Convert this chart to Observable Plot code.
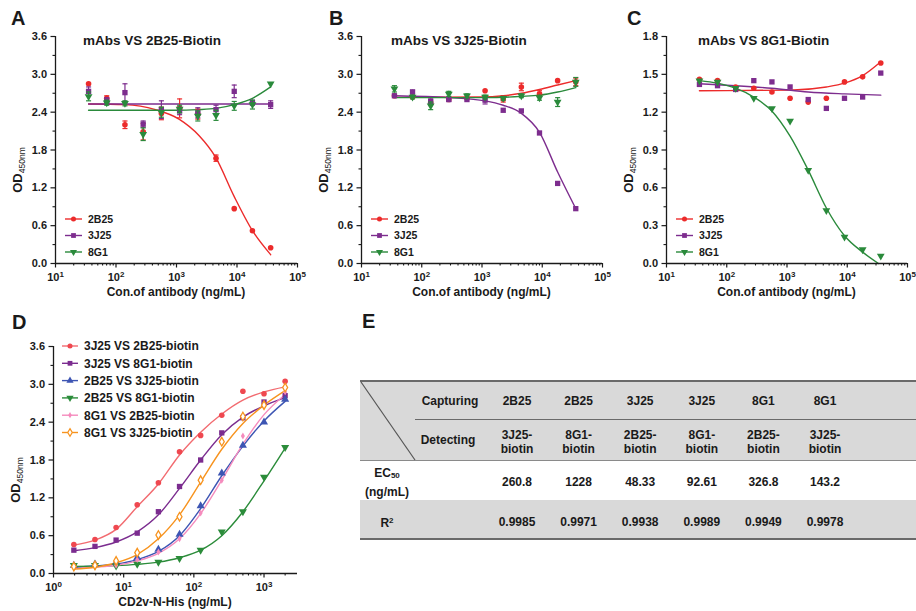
<!DOCTYPE html>
<html><head><meta charset="utf-8">
<script src="https://cdn.jsdelivr.net/npm/d3@7"></script>
<script src="https://cdn.jsdelivr.net/npm/@observablehq/plot@0.6"></script>
<style>
body{margin:0;background:#fff;}
#wrap{position:relative;width:916px;height:611px;overflow:hidden;font-family:Arial,"Liberation Sans",sans-serif;color:#1a1a1a;background:#fff;}
.panel{position:absolute;}
.cell{position:absolute;transform:translate(-50%,-50%);font-weight:bold;font-size:12px;text-align:center;line-height:14px;white-space:nowrap;color:#1a1a1a;}
.bar{position:absolute;}
</style></head><body><div id="wrap"></div>
<script>
// ---------------- DATA ----------------
const concABC = [35.2, 70.3, 140.6, 281.25, 562.5, 1125, 2250, 4500, 9000, 18000, 36000];
const concD = [1.95, 3.9, 7.8, 15.6, 31.25, 62.5, 125, 250, 500, 1000, 2000];

// Panel A: mAbs VS 2B25-Biotin
const A_2B25 = [2.85, 2.62, 2.20, 2.09, 2.38, 2.46, 2.37, 1.67, 0.87, 0.52, 0.25];
const A_2B25_sd = [0.02, 0.04, 0.06, 0.13, 0.10, 0.15, 0.08, 0.05, 0.02, 0.02, 0.02];
const A_3J25 = [2.73, 2.58, 2.71, 2.21, 2.44, 2.42, 2.39, 2.44, 2.73, 2.55, 2.52];
const A_3J25_sd = [0.07, 0.05, 0.14, 0.05, 0.14, 0.06, 0.08, 0.07, 0.10, 0.04, 0.06];
const A_8G1 = [2.65, 2.55, 2.54, 2.05, 2.40, 2.45, 2.34, 2.35, 2.50, 2.52, 2.85];
const A_8G1_sd = [0.07, 0.04, 0.04, 0.10, 0.08, 0.06, 0.08, 0.08, 0.07, 0.07, 0.02];
const A_fit_2B25 = [[35.2,2.53],[140,2.52],[450,2.44],[1100,2.29],[2350,2.03],[4400,1.69],[9000,1.06],[18000,0.52],[36000,0.14]];
const A_fit_3J25 = [[35.2,2.53],[36000,2.53]];
const A_fit_8G1 = [[35.2,2.43],[1000,2.43],[2250,2.44],[4500,2.46],[9000,2.52],[18000,2.62],[36000,2.80]];

// Panel B: mAbs VS 3J25-Biotin
const B_2B25 = [2.66, 2.64, 2.55, 2.60, 2.62, 2.74, 2.61, 2.80, 2.69, 2.90, 2.88];
const B_2B25_sd = [0.02, 0.02, 0.03, 0.02, 0.02, 0.02, 0.05, 0.06, 0.05, 0.02, 0.06];
const B_3J25 = [2.66, 2.72, 2.57, 2.60, 2.60, 2.59, 2.43, 2.42, 2.07, 1.27, 0.87];
const B_3J25_sd = [0.02, 0.03, 0.04, 0.03, 0.02, 0.06, 0.02, 0.02, 0.02, 0.02, 0.02];
const B_8G1 = [2.77, 2.64, 2.50, 2.69, 2.66, 2.64, 2.62, 2.66, 2.63, 2.56, 2.88];
const B_8G1_sd = [0.05, 0.03, 0.06, 0.04, 0.03, 0.03, 0.03, 0.03, 0.04, 0.07, 0.07];
const B_fit_2B25 = [[35.2,2.635],[1000,2.64],[2250,2.66],[4500,2.70],[9000,2.76],[18000,2.83],[36000,2.90]];
const B_fit_3J25 = [[35.2,2.66],[280,2.63],[1125,2.58],[2250,2.51],[4500,2.38],[9000,2.08],[18000,1.45],[36000,0.87]];
const B_fit_8G1 = [[35.2,2.63],[1125,2.63],[4500,2.65],[9000,2.67],[18000,2.72],[36000,2.79]];

// Panel C: mAbs VS 8G1-Biotin
const C_2B25 = [1.46, 1.45, 1.40, 1.39, 1.36, 1.31, 1.28, 1.31, 1.44, 1.48, 1.59];
const C_3J25 = [1.42, 1.41, 1.38, 1.45, 1.44, 1.40, 1.30, 1.23, 1.31, 1.32, 1.51];
const C_8G1 = [1.45, 1.44, 1.39, 1.31, 1.23, 1.13, 0.74, 0.42, 0.21, 0.11, 0.06];
const C_fit_2B25 = [[35.2,1.37],[1125,1.375],[4500,1.40],[9000,1.43],[18000,1.49],[36000,1.60]];
const C_fit_3J25 = [[35.2,1.425],[140,1.41],[560,1.39],[2250,1.36],[9000,1.345],[36000,1.335]];
const C_fit_8G1 = [[35.2,1.45],[70,1.43],[140,1.39],[280,1.32],[560,1.21],[1125,1.01],[2250,0.74],[4500,0.44],[9000,0.22],[18000,0.09],[33000,0.0]];

// Panel D: sandwich pairs vs CD2v-N-His
const D_names = ["3J25 VS 2B25-biotin","3J25 VS 8G1-biotin","2B25 VS 3J25-biotin","2B25 VS 8G1-biotin","8G1 VS 2B25-biotin","8G1 VS 3J25-biotin"];
const D_3J25_2B25 = [0.46, 0.54, 0.73, 1.09, 1.44, 1.93, 2.19, 2.51, 2.89, 2.85, 3.05];
const D_3J25_8G1 = [0.37, 0.43, 0.53, 0.64, 0.98, 1.38, 1.80, 2.23, 2.47, 2.72, 2.82];
const D_2B25_3J25 = [0.13, 0.15, 0.17, 0.25, 0.38, 0.62, 1.07, 1.59, 2.03, 2.40, 2.76];
const D_2B25_8G1 = [0.13, 0.13, 0.12, 0.15, 0.18, 0.24, 0.37, 0.66, 0.98, 1.53, 2.00];
const D_8G1_2B25 = [0.11, 0.12, 0.13, 0.22, 0.34, 0.55, 0.96, 1.48, 2.18, 2.69, 2.88];
const D_8G1_3J25 = [0.11, 0.13, 0.20, 0.33, 0.61, 0.90, 1.48, 2.09, 2.49, 2.67, 2.95];
const D_fit_3J25_2B25 = [[1.95,0.45],[3.9,0.53],[7.8,0.70],[15.6,1.06],[31.25,1.42],[62.5,1.88],[125,2.24],[250,2.53],[500,2.75],[1000,2.88],[2000,2.96]];
const D_fit_3J25_8G1 = [[1.95,0.36],[3.9,0.41],[7.8,0.50],[15.6,0.66],[31.25,0.93],[62.5,1.35],[125,1.80],[250,2.20],[500,2.48],[1000,2.66],[2000,2.79]];
const D_fit_2B25_3J25 = [[1.95,0.10],[3.9,0.12],[7.8,0.15],[15.6,0.22],[31.25,0.35],[62.5,0.60],[125,1.03],[250,1.55],[500,2.02],[1000,2.42],[2000,2.73]];
const D_fit_2B25_8G1 = [[1.95,0.11],[3.9,0.115],[7.8,0.125],[15.6,0.145],[31.25,0.18],[62.5,0.25],[125,0.37],[250,0.60],[500,0.98],[1000,1.47],[2000,1.99]];
const D_fit_8G1_2B25 = [[1.95,0.08],[3.9,0.10],[7.8,0.13],[15.6,0.20],[31.25,0.32],[62.5,0.55],[125,0.95],[250,1.48],[500,2.05],[1000,2.52],[2000,2.84]];
const D_fit_8G1_3J25 = [[1.95,0.07],[3.9,0.10],[7.8,0.17],[15.6,0.30],[31.25,0.55],[62.5,0.93],[125,1.45],[250,1.97],[500,2.38],[1000,2.67],[2000,2.90]];

// Panel E table
const E_capturing = ["2B25","2B25","3J25","3J25","8G1","8G1"];
const E_detecting = ["3J25-biotin","8G1-biotin","2B25-biotin","8G1-biotin","2B25-biotin","3J25-biotin"];
const E_ec50 = ["260.8","1228","48.33","92.61","326.8","143.2"];
const E_r2 = ["0.9985","0.9971","0.9938","0.9989","0.9949","0.9978"];

// ticks
const ticksABC = [10, 100, 1000, 10000, 100000];
const ticksD = [1, 10, 100, 1000];
const yTicks36 = [0, 0.6, 1.2, 1.8, 2.4, 3.0, 3.6];
const yTicks18 = [0, 0.3, 0.6, 0.9, 1.2, 1.5, 1.8];

// ---------------- HELPERS ----------------
const FONT = 'Arial, "Liberation Sans", sans-serif';
const INK = "#1a1a1a";
const triDown = {draw(ctx, size) {
  const s3 = Math.sqrt(3); const y = -Math.sqrt(size / (s3 * 3));
  ctx.moveTo(0, -2 * y); ctx.lineTo(-s3 * y, y); ctx.lineTo(s3 * y, y); ctx.closePath();
}};
const capSym = {draw(ctx, size) { const w = Math.sqrt(size) * 0.55; ctx.moveTo(-w, 0); ctx.lineTo(w, 0); }};
const d3sym = {circle: d3.symbolCircle, square: d3.symbolSquare, triangle: d3.symbolTriangle, diamond: d3.symbolDiamond};

function minorLog(lo, hi) {
  const out = [];
  for (let e = Math.log10(lo); e < Math.log10(hi); e++) for (let k = 2; k <= 9; k++) { const v = k * 10 ** e; if (v < hi) out.push(v); }
  return out;
}
function minorLin(ticks) { const out = []; for (let i = 0; i < ticks.length - 1; i++) out.push((ticks[i] + ticks[i + 1]) / 2); return out; }

const wrap = document.getElementById("wrap");

function panel(cfg) {
  const marks = [];
  marks.push(Plot.axisX({ticks: minorLog(cfg.xDomain[0], cfg.xDomain[1]), tickSize: 2.5, strokeWidth: 1.1, tickFormat: () => "", label: null}));
  marks.push(Plot.axisX({ticks: cfg.xTicks, tickSize: 4.5, strokeWidth: 1.2, tickPadding: 5, tickFormat: d => "10^" + Math.round(Math.log10(d)), label: null}));
  marks.push(Plot.axisY({ticks: minorLin(cfg.yTicks), tickSize: 2.5, strokeWidth: 1.1, tickFormat: () => "", label: null}));
  marks.push(Plot.axisY({ticks: cfg.yTicks, tickSize: 4.5, strokeWidth: 1.2, tickPadding: 4, tickFormat: d => d.toFixed(1), label: null}));
  for (const s of cfg.series) {
    marks.push(Plot.line(s.fit.map(([x, y]) => ({x, y})), {x: "x", y: "y", stroke: s.line || s.color, strokeWidth: 1.4, curve: "monotone-x"}));
  }
  for (const s of cfg.series) {
    const pts = cfg.x.map((x, i) => ({x, y: s.y[i], sd: s.sd ? s.sd[i] : 0}));
    const err = pts.filter(d => d.sd > 0.025);
    if (err.length) {
      marks.push(Plot.ruleX(err, {x: "x", y1: d => d.y - d.sd, y2: d => d.y + d.sd, stroke: s.color, strokeWidth: 1.2}));
      marks.push(Plot.dot(err, {x: "x", y: d => d.y + d.sd, symbol: capSym, r: 2.6, stroke: s.color, fill: "none", strokeWidth: 1.2}));
      marks.push(Plot.dot(err, {x: "x", y: d => d.y - d.sd, symbol: capSym, r: 2.6, stroke: s.color, fill: "none", strokeWidth: 1.2}));
    }
    marks.push(Plot.dot(pts, {x: "x", y: "y", symbol: s.symbol, r: s.r, fill: s.fill || s.color, stroke: s.stroke || "none", strokeWidth: 1.3}));
  }
  marks.push(Plot.ruleX([cfg.xDomain[0]], {stroke: INK, strokeWidth: 1.3}));
  marks.push(Plot.ruleY([cfg.yDomain[0]], {stroke: INK, strokeWidth: 1.3}));

  const svg = Plot.plot({
    width: cfg.width, height: cfg.height,
    marginTop: cfg.mt, marginBottom: cfg.mb, marginLeft: cfg.ml, marginRight: cfg.mr,
    x: {type: "log", domain: cfg.xDomain, label: null},
    y: {domain: cfg.yDomain, label: null},
    style: {fontFamily: FONT, fontSize: "11px", fontWeight: "bold", color: INK, background: "transparent", overflow: "visible"},
    marks
  });
  // superscript exponents on the log ticks
  const NS = "http://www.w3.org/2000/svg";
  svg.querySelectorAll("text").forEach(t => {
    const m = /^10\^(\d+)$/.exec(t.textContent);
    if (m) {
      t.textContent = "10";
      const ts = document.createElementNS(NS, "tspan");
      ts.setAttribute("dy", "-0.45em"); ts.setAttribute("font-size", "8px"); ts.textContent = m[1];
      t.appendChild(ts);
    }
  });
  const g = d3.select(svg).append("g").attr("font-family", FONT).attr("fill", INK).attr("font-weight", "bold").attr("text-anchor", "start");
  // panel letter
  g.append("text").attr("x", cfg.letterX).attr("y", cfg.letterY).attr("font-size", 20).text(cfg.letter);
  // title
  if (cfg.title) g.append("text").attr("x", cfg.ml + cfg.titleDx).attr("y", 45).attr("font-size", 13.5).text(cfg.title);
  // y label with subscript
  const yl = g.append("text").attr("transform", `translate(${cfg.ml - 33},${cfg.mt + 134}) rotate(-90)`).attr("text-anchor", "middle").attr("font-size", 13);
  yl.append("tspan").text("OD");
  yl.append("tspan").attr("font-size", 8.5).attr("font-weight", "normal").attr("dy", "0.35em").text("450nm");
  // x label
  g.append("text").attr("x", (cfg.ml + cfg.width - cfg.mr) / 2).attr("y", cfg.height - cfg.mb + 33).attr("text-anchor", "middle").attr("font-size", 12).text(cfg.xLabel);
  // legend
  const L = cfg.legend;
  cfg.series.forEach((s, i) => {
    const y = L.y0 + i * L.dy;
    g.append("line").attr("x1", L.x0).attr("x2", L.x0 + L.len).attr("y1", y).attr("y2", y).attr("stroke", s.line || s.color).attr("stroke-width", 1.4);
    const type = s.symbol === triDown ? triDown : d3sym[s.symbol];
    g.append("path").attr("transform", `translate(${L.x0 + L.len / 2},${y})`)
      .attr("d", d3.symbol().type(type).size(Math.PI * (s.r * 0.9) ** 2)())
      .attr("fill", s.fill || s.color).attr("stroke", s.stroke || "none").attr("stroke-width", 1.2);
    g.append("text").attr("x", L.x0 + L.len + L.gap).attr("y", y).attr("dy", "0.36em").attr("font-size", L.fs).text(s.name);
  });
  const div = document.createElement("div");
  div.className = "panel"; div.style.left = cfg.left + "px"; div.style.top = cfg.top + "px";
  div.appendChild(svg); wrap.appendChild(div);
}

const colRed = "#ec2b2b", colPurple = "#7d2d8e", colGreen = "#2a8a3b";
function abcSeries(y2, sd2, f2, y3, sd3, f3, y8, sd8, f8) {
  return [
    {name: "2B25", y: y2, sd: sd2, fit: f2, color: colRed, symbol: "circle", r: 2.8},
    {name: "3J25", y: y3, sd: sd3, fit: f3, color: colPurple, symbol: "square", r: 3.0},
    {name: "8G1", y: y8, sd: sd8, fit: f8, color: colGreen, symbol: triDown, r: 2.9}
  ];
}
const abcLegend = {x0: 65, len: 17, gap: 6, y0: 219, dy: 16.5, fs: 10.5};
const base = {width: 305, height: 305, mt: 36, mb: 42, ml: 55, xDomain: [10, 100000], xTicks: ticksABC, x: concABC, xLabel: "Con.of antibody (ng/mL)", legend: abcLegend, letterY: 25};

panel({...base, left: 0, top: 0, mr: 8, yDomain: [0, 3.6], yTicks: yTicks36, letter: "A", letterX: 11, title: "mAbs VS 2B25-Biotin", titleDx: 28,
  series: abcSeries(A_2B25, A_2B25_sd, A_fit_2B25, A_3J25, A_3J25_sd, A_fit_3J25, A_8G1, A_8G1_sd, A_fit_8G1)});
panel({...base, left: 306, top: 0, mr: 9, yDomain: [0, 3.6], yTicks: yTicks36, letter: "B", letterX: 23, title: "mAbs VS 3J25-Biotin", titleDx: 30,
  series: abcSeries(B_2B25, B_2B25_sd, B_fit_2B25, B_3J25, B_3J25_sd, B_fit_3J25, B_8G1, B_8G1_sd, B_fit_8G1)});
panel({...base, left: 611, top: 0, mr: 9, yDomain: [0, 1.8], yTicks: yTicks18, letter: "C", letterX: 16, title: "mAbs VS 8G1-Biotin", titleDx: 32,
  series: abcSeries(C_2B25, null, C_fit_2B25, C_3J25, null, C_fit_3J25, C_8G1, null, C_fit_8G1)});

const D_series = [
  {y: D_3J25_2B25, fit: D_fit_3J25_2B25, color: "#ef4850", line: "#f26b70", symbol: "circle", r: 2.8},
  {y: D_3J25_8G1, fit: D_fit_3J25_8G1, color: "#7b2c8f", symbol: "square", r: 3.0},
  {y: D_2B25_3J25, fit: D_fit_2B25_3J25, color: "#3d55b3", symbol: "triangle", r: 3.0},
  {y: D_2B25_8G1, fit: D_fit_2B25_8G1, color: "#2b8c3a", symbol: triDown, r: 3.0},
  {y: D_8G1_2B25, fit: D_fit_8G1_2B25, color: "#f58bbd", symbol: "diamond", r: 2.1},
  {y: D_8G1_3J25, fit: D_fit_8G1_3J25, color: "#f7931e", fill: "#fff", stroke: "#f7931e", symbol: "diamond", r: 2.6}
].map((s, i) => ({...s, name: D_names[i]}));
panel({width: 305, height: 300, mt: 36, mb: 37, ml: 53, mr: 8, left: 0, top: 310, xDomain: [1, 3000], xTicks: ticksD, x: concD,
  yDomain: [0, 3.6], yTicks: yTicks36, letter: "D", letterX: 12, letterY: 19, title: null, xLabel: "CD2v-N-His (ng/mL)",
  legend: {x0: 62, len: 16, gap: 6, y0: 36, dy: 17.3, fs: 12}, series: D_series});

// ---------------- TABLE E ----------------
function box(l, t, w, h, bg) { const d = document.createElement("div"); d.className = "bar"; Object.assign(d.style, {left: l + "px", top: t + "px", width: w + "px", height: h + "px", background: bg}); wrap.appendChild(d); }
function cell(x, y, html) { const d = document.createElement("div"); d.className = "cell"; d.style.left = x + "px"; d.style.top = y + "px"; d.innerHTML = html; wrap.appendChild(d); }
const TL = 360, TR = 916, gray = "#d9d9d9", rule = "#6a6a6a";
box(TL, 381, TR - TL, 79, gray);
box(TL, 500, TR - TL, 39, gray);
box(TL, 380, TR - TL, 2, rule);
box(415, 418.5, TR - 415, 1.5, rule);
box(TL, 459.5, TR - TL, 1.5, "#8a8a8a");
box(TL, 538, TR - TL, 2, rule);
const over = d3.select(wrap).append("svg").attr("width", 916).attr("height", 611).style("position", "absolute").style("left", 0).style("top", 0);
over.append("line").attr("x1", TL + 1).attr("y1", 382).attr("x2", 415).attr("y2", 460).attr("stroke", "#555").attr("stroke-width", 1.2);
over.append("text").attr("x", 362).attr("y", 328).attr("font-family", FONT).attr("font-weight", "bold").attr("font-size", 20).attr("fill", INK).text("E");
cell(450, 401, "Capturing");
cell(448, 440, "Detecting");
cell(387, 483, 'EC<sub style="font-size:8px;vertical-align:-1px">50</sub><br><span style="line-height:18px">(ng/mL)</span>');
cell(387, 522, 'R<sup style="font-size:8px;vertical-align:4px">2</sup>');
E_capturing.forEach((c, i) => {
  const cx = 517 + i * 61.6;
  cell(cx, 401, c);
  const parts = E_detecting[i].split("-");
  cell(cx, 442, parts[0] + "-<br>" + parts[1]);
  cell(cx, 482, E_ec50[i]);
  cell(cx, 522, E_r2[i]);
});
</script></body></html>
